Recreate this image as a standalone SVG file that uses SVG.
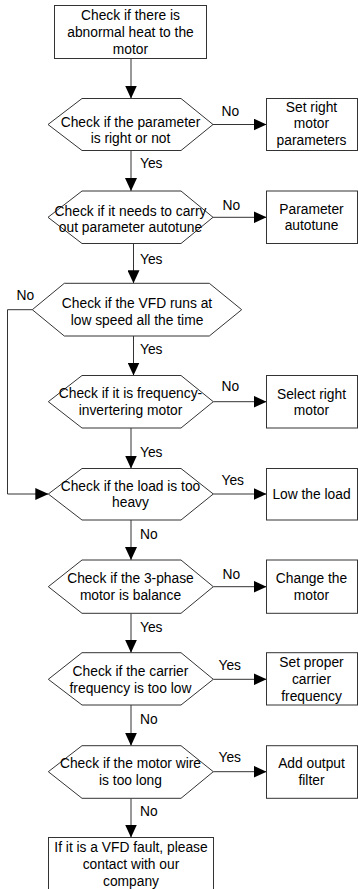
<svg xmlns="http://www.w3.org/2000/svg" width="358" height="889" viewBox="0 0 358 889">
<style>
.n{fill:#fff;stroke:#333;stroke-width:1}
.t{font-family:"Liberation Sans",Arial,sans-serif;font-size:13.8px;fill:#000;text-anchor:middle}
.l{font-family:"Liberation Sans",Arial,sans-serif;font-size:13.8px;fill:#000}
.c{fill:none;stroke:#333;stroke-width:1;marker-end:url(#ah)}
</style>
<defs>
<marker id="ah" markerUnits="userSpaceOnUse" markerWidth="13" markerHeight="12" refX="13" refY="6" orient="auto">
<path d="M0,0 L13,6 L0,12 z" fill="#000"/>
</marker>
</defs>
<rect width="358" height="889" fill="#fff"/>
<g id="connectors">
<path class="c" d="M131,58.5 V98.5"/>
<path class="c" d="M213,124.5 H266.5"/>
<path class="c" d="M131,150.5 V191"/>
<path class="c" d="M213,217.3 H266.5"/>
<path class="c" d="M133.5,243.5 V283.3"/>
<path class="c" d="M32.3,309.7 H7.5 V494 H48.3"/>
<path class="c" d="M133.5,336 V375.5"/>
<path class="c" d="M213.3,401.7 H266.5"/>
<path class="c" d="M131,428 V468.5"/>
<path class="c" d="M213.3,494 H266.5"/>
<path class="c" d="M131,520 V560"/>
<path class="c" d="M213.3,586.7 H266.5"/>
<path class="c" d="M131,613.3 V652.7"/>
<path class="c" d="M213.3,679.3 H266.5"/>
<path class="c" d="M131,705 V745.7"/>
<path class="c" d="M213.3,771.7 H266.5"/>
<path class="c" d="M131,798.3 V837.5"/>
<text class="l" x="221.5" y="115.5">No</text>
<text class="l" x="140" y="168">Yes</text>
<text class="l" x="222.5" y="209.7">No</text>
<text class="l" x="140" y="263.5">Yes</text>
<text class="l" x="16.5" y="299.7">No</text>
<text class="l" x="140" y="354">Yes</text>
<text class="l" x="221.5" y="391">No</text>
<text class="l" x="140" y="457.4">Yes</text>
<text class="l" x="221.5" y="484.7">Yes</text>
<text class="l" x="140" y="538.7">No</text>
<text class="l" x="222.5" y="578.7">No</text>
<text class="l" x="140" y="632">Yes</text>
<text class="l" x="218.5" y="669.7">Yes</text>
<text class="l" x="140" y="723.7">No</text>
<text class="l" x="218.5" y="762">Yes</text>
<text class="l" x="140" y="816.4">No</text>
</g>
<g id="start">
<rect class="n" x="54.5" y="5.5" width="152" height="53"/>
<text class="t" x="130.5" y="20.4">Check if there is</text>
<text class="t" x="130.5" y="37">abnormal heat to the</text>
<text class="t" x="130.5" y="53.7">motor</text>
</g>
<g id="d1">
<polygon class="n" points="48,124.5 82,98.5 181,98.5 213,124.5 181,150.5 82,150.5"/>
<text class="t" x="130.5" y="126.5">Check if the parameter</text>
<text class="t" x="130.5" y="142.5">is right or not</text>
</g>
<g id="r1">
<rect class="n" x="266.5" y="98.5" width="91" height="52"/>
<text class="t" x="311.5" y="112">Set right</text>
<text class="t" x="311.5" y="128.3">motor</text>
<text class="t" x="311.5" y="144.8">parameters</text>
</g>
<g id="d2">
<polygon class="n" points="48,217.3 82,191 181,191 213,217.3 181,243.5 82,243.5"/>
<text class="t" x="130.5" y="215.7">Check if it needs to carry</text>
<text class="t" x="130.5" y="232">out parameter autotune</text>
</g>
<g id="r2">
<rect class="n" x="266.5" y="191" width="91" height="52.5"/>
<text class="t" x="311.5" y="213.7">Parameter</text>
<text class="t" x="311.5" y="230.4">autotune</text>
</g>
<g id="d3">
<polygon class="n" points="32.3,309.7 64.3,283.3 209.3,283.3 241.7,309.7 209.3,336 64.3,336"/>
<text class="t" x="137" y="307.8">Check if the VFD runs at</text>
<text class="t" x="137" y="324.7">low speed all the time</text>
</g>
<g id="d4">
<polygon class="n" points="48.3,401.7 82,375.5 181,375.5 213.3,401.7 181,428 82,428"/>
<text class="t" x="130.5" y="398">Check if it is frequency-</text>
<text class="t" x="130.5" y="415.3">invertering motor</text>
</g>
<g id="r3">
<rect class="n" x="266.5" y="375.5" width="91" height="52.5"/>
<text class="t" x="311.5" y="399.2">Select right</text>
<text class="t" x="311.5" y="415.4">motor</text>
</g>
<g id="d5">
<polygon class="n" points="48.3,494 82,468.5 181,468.5 213.3,494 181,520 82,520"/>
<text class="t" x="130.5" y="490.7">Check if the load is too</text>
<text class="t" x="130.5" y="507.2">heavy</text>
</g>
<g id="r4">
<rect class="n" x="266.5" y="468.5" width="91" height="51.5"/>
<text class="t" x="311.5" y="498.5">Low the load</text>
</g>
<g id="d6">
<polygon class="n" points="48.3,586.7 82,560 181,560 213.3,586.7 181,613.3 82,613.3"/>
<text class="t" x="130.5" y="583">Check if the 3-phase</text>
<text class="t" x="130.5" y="600.4">motor is balance</text>
</g>
<g id="r5">
<rect class="n" x="266.5" y="560" width="91" height="53.3"/>
<text class="t" x="311.5" y="583">Change the</text>
<text class="t" x="311.5" y="599.7">motor</text>
</g>
<g id="d7">
<polygon class="n" points="48.3,679.3 82,652.7 181,652.7 213.3,679.3 181,705 82,705"/>
<text class="t" x="130.5" y="676.4">Check if the carrier</text>
<text class="t" x="130.5" y="693">frequency is too low</text>
</g>
<g id="r6">
<rect class="n" x="266.5" y="652.7" width="91" height="52.3"/>
<text class="t" x="311.5" y="667.4">Set proper</text>
<text class="t" x="311.5" y="684">carrier</text>
<text class="t" x="311.5" y="700.7">frequency</text>
</g>
<g id="d8">
<polygon class="n" points="48.3,771.7 82,745.7 181,745.7 213.3,771.7 181,798.3 82,798.3"/>
<text class="t" x="130.5" y="768">Check if the motor wire</text>
<text class="t" x="130.5" y="784.7">is too long</text>
</g>
<g id="r7">
<rect class="n" x="266.5" y="745.7" width="91" height="52.6"/>
<text class="t" x="311.5" y="768">Add output</text>
<text class="t" x="311.5" y="784.7">filter</text>
</g>
<g id="end">
<rect class="n" x="48.5" y="837.5" width="165" height="58"/>
<text class="t" x="131" y="852.4">If it is a VFD fault, please</text>
<text class="t" x="131" y="869">contact with our</text>
<text class="t" x="131" y="885.7">company</text>
</g>
</svg>
